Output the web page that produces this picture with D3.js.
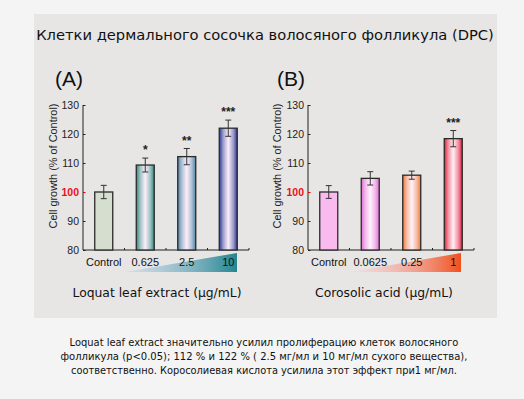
<!DOCTYPE html>
<html><head><meta charset="utf-8">
<script src="https://cdn.jsdelivr.net/npm/d3@7"></script>
<style>
html,body{margin:0;padding:0;background:#f4f4f4;}
svg{display:block;}
</style></head>
<body>
<svg id="c" width="524" height="399"></svg>
<script>
// ---- data ----
const titleText = "Клетки дермального сосочка волосяного фолликула (DPC)";
const yTicks = [80, 90, 100, 110, 120, 130];
const catsA = ["Control", "0.625", "2.5", "10"];
const valsA = [100, 109.3, 112.2, 122.0];
const errA = [2.3, 2.4, 2.8, 2.8];
const sigA = ["", "*", "**", "***"];
const catsB = ["Control", "0.0625", "0.25", "1"];
const valsB = [100, 104.7, 105.8, 118.4];
const errB = [2.2, 2.3, 1.4, 2.8];
const sigB = ["", "", "", "***"];
const noteLines = [
  "Loquat leaf extract  значительно усилил пролиферацию клеток волосяного",
  "фолликула (p<0.05); 112 % и 122 % ( 2.5 мг/мл и 10 мг/мл сухого вещества),",
  "соответственно.  Коросолиевая кислота усилила этот эффект при1 мг/мл."
];

const svg = d3.select("#c");
const defs = svg.append("defs");

// panel
svg.append("rect").attr("x", 34).attr("y", 14).attr("width", 463).attr("height", 304).attr("fill", "#e8e6e4");

function fitText(sel, width) {
  const n = sel.node();
  const fs = parseFloat(sel.attr("font-size"));
  const w = n.getComputedTextLength();
  sel.attr("font-size", (fs * width / w).toFixed(2));
  return sel;
}

const sans = "'DejaVu Sans', Verdana, sans-serif";
const arial = "'Liberation Sans', Arial, sans-serif";

fitText(svg.append("text").attr("x", 265).attr("y", 40).attr("text-anchor", "middle")
  .attr("font-family", sans).attr("font-size", 16).attr("fill", "#111").text(titleText), 458);

function barGrad(id, edge, centre) {
  const g = defs.append("linearGradient").attr("id", id).attr("x1", "0").attr("x2", "1").attr("y1", "0").attr("y2", "0");
  g.append("stop").attr("offset", "0").attr("stop-color", edge);
  g.append("stop").attr("offset", "0.22").attr("stop-color", d3.interpolateRgb(edge, centre)(0.55));
  g.append("stop").attr("offset", "0.5").attr("stop-color", centre);
  g.append("stop").attr("offset", "0.78").attr("stop-color", d3.interpolateRgb(edge, centre)(0.55));
  g.append("stop").attr("offset", "1").attr("stop-color", edge);
  return "url(#" + id + ")";
}
function triGrad(id, c0, c1) {
  const g = defs.append("linearGradient").attr("id", id).attr("x1", "0").attr("x2", "1").attr("y1", "0").attr("y2", "0");
  g.append("stop").attr("offset", "0").attr("stop-color", c0).attr("stop-opacity", 0.3);
  g.append("stop").attr("offset", "1").attr("stop-color", c1);
  return "url(#" + id + ")";
}

const fillsA = ["#d6dfcf", barGrad("a1", "#2f8c7e", "#fbeefa"), barGrad("a2", "#4e86a6", "#fbeefa"), barGrad("a3", "#2b3990", "#fbeefa")];
const fillsB = ["#f8baef", barGrad("b1", "#df6fd6", "#fff2fc"), barGrad("b2", "#ee7a36", "#fff2fa"), barGrad("b3", "#e31c3a", "#fff0f6")];

function panel(opts) {
  const { x0, x1, label, labelX, cats, vals, errs, sigs, fills, tri, triFill, xTitle, xTitleCx, xTitleW, yTitleX } = opts;
  const y = d3.scaleLinear().domain([80, 130]).range([250, 105]);
  const x = d3.scaleBand().domain(cats).range([x0, x1]);
  const g = svg.append("g");

  g.append("text").attr("x", labelX).attr("y", 86).attr("font-family", arial).attr("font-size", 21).attr("fill", "#111").text(label);

  // y axis
  const ya = g.append("g").attr("transform", `translate(${x0},0)`)
    .call(d3.axisRight(y).tickValues(yTicks).tickSize(2.5).tickPadding(-16));
  ya.select(".domain").attr("stroke", "#222").attr("d", `M0,${y(130)}V${y(80)}`);
  ya.selectAll(".tick line").attr("stroke", d => d === 100 ? "#e00" : "#222");
  ya.selectAll(".tick text").attr("text-anchor", "end").attr("x", -4).attr("dy", "0.35em")
    .attr("font-family", arial).attr("font-size", 10.5)
    .attr("fill", d => d === 100 ? "#e8101a" : "#222").attr("font-weight", d => d === 100 ? "bold" : "normal");

  // x axis
  const xa = g.append("g").attr("transform", `translate(0,${y(80)})`);
  xa.append("line").attr("x1", x0).attr("x2", x1).attr("stroke", "#222");
  xa.selectAll(".xt").data(cats.slice(1).concat(["__end"])).join("line")
    .attr("x1", (d, i) => x0 + (i + 1) * x.step()).attr("x2", (d, i) => x0 + (i + 1) * x.step())
    .attr("y1", 0).attr("y2", -2).attr("stroke", "#222");

  // gradient triangle
  g.append("path").attr("d", `M${tri[0]},272L${tri[1]},253L${tri[1]},272Z`).attr("fill", triFill);

  const bw = 18;
  const cx = d => x(d) + x.bandwidth() / 2;
  g.selectAll(".bar").data(cats).join("rect")
    .attr("x", d => cx(d) - bw / 2).attr("width", bw)
    .attr("y", (d, i) => y(vals[i])).attr("height", (d, i) => y(80) - y(vals[i]))
    .attr("fill", (d, i) => fills[i]).attr("stroke", "#2a2a2a").attr("stroke-width", 1.3);

  // error bars
  cats.forEach((d, i) => {
    const t = y(vals[i] + errs[i]), b = y(vals[i] - errs[i]);
    g.append("path").attr("d", `M${cx(d)},${t}V${b}M${cx(d) - 3},${t}H${cx(d) + 3}M${cx(d) - 3},${b}H${cx(d) + 3}`)
      .attr("stroke", "#333").attr("stroke-width", 1).attr("fill", "none");
    if (sigs[i]) g.append("text").attr("x", cx(d)).attr("y", t - 4).attr("text-anchor", "middle")
      .attr("font-family", arial).attr("font-size", 12).attr("font-weight", "bold").attr("fill", "#222").text(sigs[i]);
  });

  // x labels
  g.selectAll(".xl").data(cats).join("text")
    .attr("x", d => cx(d)).attr("y", 266).attr("text-anchor", "middle")
    .attr("font-family", arial).attr("font-size", 11).attr("fill", "#111").text(d => d);

  // y title
  fitText(g.append("text").attr("transform", `translate(${yTitleX},166) rotate(-90)`).attr("text-anchor", "middle")
    .attr("font-family", arial).attr("font-size", 10).attr("fill", "#222").text("Cell growth (% of Control)"), 125);

  fitText(g.append("text").attr("x", xTitleCx).attr("y", 297).attr("text-anchor", "middle")
    .attr("font-family", sans).attr("font-size", 14).attr("fill", "#111").text(xTitle), xTitleW);
}

panel({ x0: 83, x1: 249, label: "(A)", labelX: 55, cats: catsA, vals: valsA, errs: errA, sigs: sigA, fills: fillsA,
  tri: [125, 237], triFill: triGrad("ta", "#a8c8e8", "#23858f"),
  xTitle: "Loquat leaf extract (μg/mL)", xTitleCx: 157, xTitleW: 169, yTitleX: 57 });
panel({ x0: 308, x1: 474, label: "(B)", labelX: 277, cats: catsB, vals: valsB, errs: errB, sigs: sigB, fills: fillsB,
  tri: [350, 461], triFill: triGrad("tb", "#fbd0dc", "#f0501e"),
  xTitle: "Corosolic acid (μg/mL)", xTitleCx: 384, xTitleW: 138, yTitleX: 281 });

const noteW = [389, 407, 386];
const noteY = [345.5, 359.5, 373.5];
noteLines.forEach((t, i) => {
  fitText(svg.append("text").attr("x", 264).attr("y", noteY[i]).attr("text-anchor", "middle")
    .attr("font-family", sans).attr("font-size", 11).attr("fill", "#111").text(t), noteW[i]);
});
</script>
</body></html>
